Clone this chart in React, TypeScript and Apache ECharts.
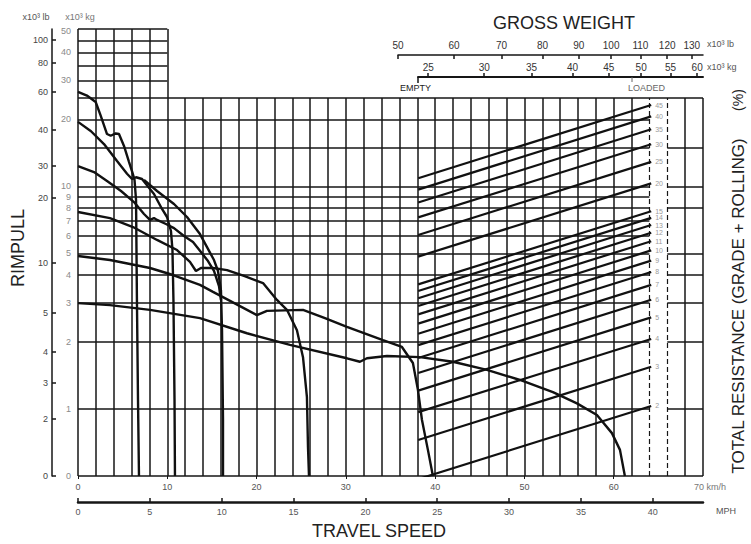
import React, { useEffect, useRef } from 'react';
import * as echarts from 'echarts';

// ---------- data ----------
// rimpull axis (x10^3 kg) tick labels
const kgTickValues = [0, 1, 2, 3, 4, 5, 6, 7, 8, 9, 10, 20, 30, 40, 50];
// rimpull axis (x10^3 lb) tick labels and where they sit on the kg scale
const lbTickText = ['0', '2', '3', '4', '5', '10', '20', '30', '40', '60', '80', '100'];
const lbTickKg = [0, 0.85, 1.31, 1.8, 2.7, 4.53, 8.87, 12.35, 17.9, 26.6, 35.9, 45.5];
// travel speed
const speedTicksKmh = [0, 10, 20, 30, 40, 50, 60];
const speedTicksMph = [0, 5, 10, 15, 20, 25, 30, 35, 40];
// gross weight scales
const grossLbTicks = [50, 60, 70, 80, 90, 100, 110, 120, 130];
const grossKgTicks = [25, 30, 35, 40, 45, 50, 55, 60];
// total resistance lines (%)
const resistancePct = [2, 3, 4, 5, 6, 7, 8, 9, 10, 11, 12, 13, 14, 15, 20, 25, 30, 35, 40, 45];
const emptyWeightT = 24.2;
const loadedWeightT = 51.6;
const emptySpeedKmh = 38.1;
const loadedSpeedKmh = 64.2;
// grid lines (x10^3 kg)
const mainGridKg = [1, 2, 3, 4, 5, 6, 7, 8, 9, 10, 15, 20];
const upperBlockKg = [30, 35, 40, 45];
const rightGridKg = [1, 2, 3, 4, 5, 8, 10, 15];
const gridTopKg = 25;

// rimpull curves [km/h, x10^3 kg]
const curveF1 = [[0, 26.6], [1.0, 25.6], [1.98, 23.95], [2.54, 20.8], [3.25, 17.2], [3.66, 16.9], [4.22, 17.3], [4.59, 17.2], [5.15, 15.2], [5.71, 12.9], [6.08, 11.6], [6.33, 10.7], [6.5, 8.69], [6.6, 3.09], [6.72, 1.1], [6.83, 0]];
const curveF2 = [[0, 19.5], [1.46, 17.7], [2.91, 15.5], [4.37, 13.0], [5.49, 11.4], [6.05, 10.8], [6.5, 11.0], [7.17, 10.8], [8.51, 9.25], [9.41, 7.92], [9.97, 7.29], [10.41, 6.31], [10.58, 5.18], [10.69, 3.09], [10.81, 1.1], [10.86, 0]];
const curveF3 = [[7.39, 10.7], [8.85, 9.54], [10.75, 8.34], [12.21, 7.29], [13.66, 6.11], [14.45, 5.34], [15.23, 4.67], [15.68, 4.17], [16.01, 3.42], [16.13, 2.26], [16.24, 0.84], [16.24, 0]];
const curveF3b = [[0, 12.35], [1.79, 11.6], [3.25, 10.58], [4.82, 9.54], [6.27, 8.51], [7.39, 7.52], [8.06, 7.07], [8.51, 7.21], [8.85, 7.07], [9.85, 6.78], [10.75, 6.5], [11.87, 5.99], [12.88, 5.63], [13.77, 5.07], [14.56, 4.62], [15.23, 4.17], [15.79, 3.57], [16.01, 3.09]];
const curveF4 = [[0, 7.68], [3.58, 7.21], [6.16, 6.57], [8.85, 5.75], [11.09, 5.18], [12.54, 4.58], [13.21, 4.17], [13.77, 4.3], [15.12, 4.3], [16.69, 4.21], [18.59, 3.96], [20.72, 3.68], [22.28, 3.09], [23.4, 2.79], [24.52, 2.26], [25.2, 1.71], [25.64, 1.13], [25.76, 0.43], [25.87, 0]];
const curveF5 = [[0, 4.87], [3.58, 4.67], [8.06, 4.3], [10.64, 4.0], [13.66, 3.61], [15.12, 3.36], [18.14, 2.9], [20.04, 2.64], [21.16, 2.76], [25.2, 2.79], [27.66, 2.56], [30.12, 2.34], [34.15, 2.04], [36.28, 1.9], [37.51, 1.61], [38.07, 1.22], [38.52, 0.84], [39.19, 0.39], [39.75, 0]];
const curveF6 = [[0, 2.99], [3.58, 2.93], [8.06, 2.79], [13.66, 2.56], [18.92, 2.19], [23.74, 1.94], [30.12, 1.69], [31.58, 1.63], [32.36, 1.69], [34.6, 1.73], [38.3, 1.71], [41.99, 1.63], [45.8, 1.5], [49.5, 1.35], [53.19, 1.19], [55.88, 1.06], [58.12, 0.91], [59.8, 0.64], [60.7, 0.39], [61.25, 0]];
const curveLabels = [
  { name: 'F1', at: [3.25, 25.5] },
  { name: 'F2', at: [10.5, 9.1] },
  { name: 'F3', at: [14.3, 6.15] },
  { name: 'F4', at: [19.7, 4.2] },
  { name: 'F5', at: [29.7, 2.73] },
  { name: 'F6', at: [36.4, 1.95] },
];

// ---------- scale helpers ----------
const U_MAX = 6.672;
const toU = (kg: number) => (kg <= 1 ? kg : 1 + Math.log2(kg));
const toULog = (kg: number) => 1 + Math.log2(kg);
const KMH_PER_MPH = 1.609344;
const FONT = 'Liberation Sans, Arial, Helvetica, sans-serif';
const INK = '#161616';

function lookupLabel(vals: number[], texts: string[], v: number) {
  for (let i = 0; i < vals.length; i++) if (Math.abs(vals[i] - v) < 1e-6) return texts[i];
  return '';
}

function buildOption() {
  const topU = toU(gridTopKg);
  const gl: any[] = [];
  const seg = (x1: number, y1: number, x2: number, y2: number, dashed = false) => {
    gl.push([
      { coord: [x1, y1], lineStyle: dashed ? { type: [5, 3], width: 1.2 } : undefined },
      { coord: [x2, y2] },
    ]);
  };
  for (let x = 0; x <= 70; x += 2) {
    const top = x <= 10 ? U_MAX : topU;
    seg(x, 0, x, top, x === 64 || x === 66);
  }
  seg(0, 0, 70, 0);
  seg(0, topU, 70, topU);
  mainGridKg.forEach((k) => seg(0, toU(k), 64, toU(k)));
  rightGridKg.forEach((k) => seg(66, toU(k), 70, toU(k)));
  upperBlockKg.forEach((k) => seg(0, toU(k), 10, toU(k)));
  seg(0, U_MAX, 10, U_MAX);

  const curveSeries = [curveF1, curveF2, curveF3, curveF3b, curveF4, curveF5, curveF6].map((c) => ({
    type: 'line',
    data: c.map(([x, k]) => [x, toU(k)]),
    symbol: 'none',
    silent: true,
    clip: true,
    z: 6,
    lineStyle: { color: '#111', width: 2.4 },
  }));

  const resistanceSeries = resistancePct.map((r) => ({
    type: 'line',
    data: [
      [emptySpeedKmh, toULog((emptyWeightT * r) / 100)],
      [loadedSpeedKmh, toULog((loadedWeightT * r) / 100)],
    ],
    symbol: 'none',
    silent: true,
    clip: true,
    z: 5,
    lineStyle: { color: '#111', width: 2.2 },
    endLabel: { show: true, formatter: String(r), fontSize: 7, color: '#9a9a9a', distance: 4, fontFamily: FONT },
  }));

  const lbU = lbTickKg.map(toU);
  const kgU = kgTickValues.map(toU);
  const lbLog = grossLbTicks.map((v) => Math.log10(v));
  const kgLog = grossKgTicks.map((v) => Math.log10(v));

  const text = (t: string, x: number, y: number, size: number, opts: any = {}) => ({
    type: 'text',
    x,
    y,
    rotation: opts.rotation || 0,
    silent: true,
    z: 20,
    style: {
      text: t,
      fontSize: size,
      fontFamily: FONT,
      fill: opts.fill || '#222',
      align: opts.align || 'center',
      textAlign: opts.align || 'center',
      verticalAlign: 'middle',
      textVerticalAlign: 'middle',
    },
  });

  return {
    animation: false,
    backgroundColor: '#fff',
    textStyle: { fontFamily: FONT },
    grid: [
      { left: 78, right: 48, top: 29, bottom: 68, outerBoundsMode: 'none' },
      { left: 398, right: 48, top: 55, height: 1, outerBoundsMode: 'none' },
      { left: 418, right: 48, top: 77, height: 1, outerBoundsMode: 'none' },
    ],
    xAxis: [
      {
        gridIndex: 0, type: 'value', min: 0, max: 70, position: 'bottom',
        axisLine: { show: false, onZero: false }, splitLine: { show: false },
        axisTick: { show: true, customValues: speedTicksKmh, length: 3, lineStyle: { color: INK } },
        axisLabel: { customValues: speedTicksKmh, fontSize: 9, color: '#555', margin: 6, fontFamily: FONT },
      },
      {
        gridIndex: 0, type: 'value', min: 0, max: 70 / KMH_PER_MPH, position: 'bottom', offset: 26,
        axisLine: { show: true, onZero: false, lineStyle: { color: INK, width: 2.5 } }, splitLine: { show: false },
        axisTick: { show: true, customValues: speedTicksMph, inside: true, length: 4, lineStyle: { color: INK, width: 1.5 } },
        axisLabel: { customValues: speedTicksMph, fontSize: 9, color: '#555', margin: 5, fontFamily: FONT },
      },
      {
        gridIndex: 1, type: 'value', min: Math.log10(50), max: Math.log10(50) + 305 / 708, position: 'top',
        axisLine: { show: true, onZero: false, lineStyle: { color: INK, width: 1.5 } }, splitLine: { show: false },
        axisTick: { show: true, customValues: lbLog, inside: true, length: 4, lineStyle: { color: INK, width: 1.5 } },
        axisLabel: {
          customValues: lbLog, fontSize: 10, color: '#333', margin: 5, fontFamily: FONT,
          formatter: (v: number) => lookupLabel(lbLog, grossLbTicks.map(String), v),
        },
      },
      {
        gridIndex: 2, type: 'value', min: Math.log10(24.18), max: Math.log10(61.15), position: 'top',
        axisLine: { show: true, onZero: false, lineStyle: { color: INK, width: 2 } }, splitLine: { show: false },
        axisTick: { show: true, customValues: kgLog, length: 4, lineStyle: { color: INK, width: 1.5 } },
        axisLabel: {
          customValues: kgLog, fontSize: 10, color: '#333', margin: 5, fontFamily: FONT,
          formatter: (v: number) => lookupLabel(kgLog, grossKgTicks.map(String), v),
        },
      },
    ],
    yAxis: [
      {
        gridIndex: 0, type: 'value', min: 0, max: U_MAX, position: 'left',
        axisLine: { show: false, onZero: false }, axisTick: { show: false }, splitLine: { show: false },
        axisLabel: {
          customValues: kgU, fontSize: 9, color: '#8a8a8a', margin: 7, fontFamily: FONT,
          formatter: (v: number) => lookupLabel(kgU, kgTickValues.map(String), v),
        },
      },
      {
        gridIndex: 0, type: 'value', min: 0, max: U_MAX, position: 'left', offset: 26,
        axisLine: { show: true, onZero: false, lineStyle: { color: INK, width: 1.5 } }, splitLine: { show: false },
        axisTick: { show: true, customValues: lbU, inside: true, length: 4, lineStyle: { color: INK, width: 1.5 } },
        axisLabel: {
          customValues: lbU, fontSize: 9, color: '#444', margin: 4, fontFamily: FONT,
          formatter: (v: number) => lookupLabel(lbU, lbTickText, v),
        },
      },
      { gridIndex: 1, type: 'value', show: false, min: 0, max: 1 },
      { gridIndex: 2, type: 'value', show: false, min: 0, max: 1 },
    ],
    series: [
      {
        type: 'line', xAxisIndex: 0, yAxisIndex: 0, data: [], silent: true,
        markLine: {
          silent: true, symbol: ['none', 'none'], label: { show: false }, emphasis: { disabled: true },
          lineStyle: { color: INK, width: 1.5, type: 'solid' }, data: gl, z: 1,
        },
      },
      ...resistanceSeries,
      ...curveSeries,
      {
        type: 'scatter', xAxisIndex: 0, yAxisIndex: 0, symbolSize: 1, silent: true, z: 10,
        itemStyle: { opacity: 0 },
        data: curveLabels.map((l) => ({ name: l.name, value: [l.at[0], toU(l.at[1])] })),
        label: {
          show: true, position: 'inside', formatter: '{b}', fontSize: 10, color: '#222',
          backgroundColor: '#fff', padding: [1, 2], fontFamily: FONT,
        },
      },
      { type: 'line', xAxisIndex: 2, yAxisIndex: 2, data: [] },
      { type: 'line', xAxisIndex: 3, yAxisIndex: 3, data: [] },
    ],
    graphic: [
      text('x10³ lb', 36, 17, 9, { fill: '#555' }),
      text('x10³ kg', 80, 17, 9, { fill: '#777' }),
      text('RIMPULL', 18, 248, 18, { rotation: Math.PI / 2 }),
      text('TRAVEL SPEED', 379, 531, 18),
      text('GROSS WEIGHT', 564, 23, 18),
      text('x10³ lb', 707, 44, 9, { align: 'left', fill: '#555' }),
      text('x10³ kg', 707, 67, 9, { align: 'left', fill: '#555' }),
      text('EMPTY', 400, 88, 9, { align: 'left' }),
      text('LOADED', 628, 88, 9, { align: 'left', fill: '#666' }),
      text('70 km/h', 694, 487, 9, { align: 'left', fill: '#777' }),
      text('MPH', 716, 511, 9, { align: 'left', fill: '#555' }),
      text('TOTAL RESISTANCE (GRADE + ROLLING)', 738, 306, 17, { rotation: Math.PI / 2 }),
      text('(%)', 738, 100, 14, { rotation: Math.PI / 2 }),
      { type: 'line', silent: true, z: 20, shape: { x1: 418, y1: 77, x2: 418, y2: 83 }, style: { stroke: INK, lineWidth: 1.5 } },
      { type: 'line', silent: true, z: 20, shape: { x1: 632, y1: 77, x2: 632, y2: 82 }, style: { stroke: '#666', lineWidth: 1 } },
    ],
  };
}

export default function App() {
  const ref = useRef<HTMLDivElement>(null);
  useEffect(() => {
    if (!ref.current) return;
    const chart = echarts.init(ref.current, undefined, { renderer: 'svg' });
    chart.setOption(buildOption() as any);
    return () => chart.dispose();
  }, []);
  return (
    <div
      ref={ref}
      style={{ position: 'fixed', left: 0, top: 0, width: 751, height: 544, background: '#fff' }}
    />
  );
}
